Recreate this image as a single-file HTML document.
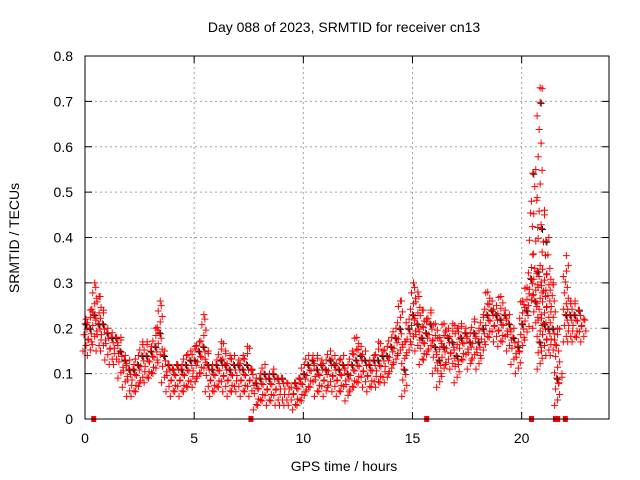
<!DOCTYPE html>
<html><head><meta charset="utf-8"><style>
body{margin:0;background:#fff}
svg{display:block;font-family:"Liberation Sans",sans-serif}
</style></head><body>
<svg id="chart" width="640" height="480" viewBox="0 0 640 480">
<rect width="640" height="480" fill="#fff"/>
<text x="344" y="32" font-size="14" text-anchor="middle">Day 088 of 2023, SRMTID for receiver cn13</text>
<text x="344" y="471" font-size="14" text-anchor="middle">GPS time / hours</text>
<text transform="translate(19,238) rotate(-90)" font-size="14" text-anchor="middle">SRMTID / TECUs</text>
<g id="grid"></g>
<g id="ticks"></g>
<g id="marks"></g>
<rect x="85" y="56" width="524" height="363" fill="none" stroke="#000" stroke-width="1"/>
</svg>
<script>
const times=[0,0.2,0.4,0.6,0.8,1,1.2,1.4,1.6,1.8,2,2.2,2.4,2.6,2.8,3,3.2,3.4,3.6,3.8,4,4.2,4.4,4.6,4.8,5,5.2,5.4,5.6,5.8,6,6.2,6.4,6.6,6.8,7,7.2,7.4,7.6,7.8,8,8.2,8.4,8.6,8.8,9,9.2,9.4,9.6,9.8,10,10.2,10.4,10.6,10.8,11,11.2,11.4,11.6,11.8,12,12.2,12.4,12.6,12.8,13,13.2,13.4,13.6,13.8,14,14.2,14.4,14.6,14.8,15,15.2,15.4,15.6,15.8,16,16.2,16.4,16.6,16.8,17,17.2,17.4,17.6,17.8,18,18.2,18.4,18.6,18.8,19,19.2,19.4,19.6,19.8,20,20.2,20.4,20.6,20.8,21,21.2,21.4,21.6,21.8,22,22.2,22.4,22.6,22.8];
const lowVals=[0.15,0.14,0.17,0.15,0.15,0.13,0.12,0.12,0.09,0.07,0.05,0.05,0.06,0.08,0.08,0.09,0.10,0.13,0.08,0.06,0.05,0.06,0.05,0.06,0.07,0.07,0.09,0.10,0.06,0.05,0.06,0.07,0.06,0.05,0.06,0.06,0.05,0.06,0.05,0.02,0.03,0.04,0.03,0.04,0.03,0.03,0.03,0.03,0.02,0.03,0.04,0.06,0.07,0.05,0.06,0.05,0.07,0.06,0.05,0.06,0.04,0.06,0.07,0.08,0.07,0.06,0.07,0.07,0.08,0.08,0.10,0.12,0.14,0.05,0.14,0.17,0.15,0.12,0.13,0.15,0.10,0.07,0.10,0.12,0.11,0.08,0.12,0.13,0.11,0.13,0.11,0.14,0.17,0.18,0.17,0.16,0.17,0.15,0.12,0.10,0.15,0.18,0.25,0.20,0.11,0.15,0.14,0.14,0.03,0.08,0.17,0.17,0.17,0.18,0.17];
const highVals=[0.22,0.24,0.30,0.27,0.24,0.20,0.19,0.18,0.18,0.14,0.13,0.12,0.14,0.17,0.17,0.16,0.20,0.26,0.15,0.12,0.11,0.12,0.12,0.14,0.15,0.16,0.17,0.23,0.15,0.12,0.13,0.17,0.15,0.14,0.14,0.13,0.14,0.16,0.11,0.09,0.10,0.12,0.10,0.11,0.09,0.09,0.08,0.07,0.08,0.09,0.12,0.14,0.14,0.14,0.13,0.13,0.15,0.14,0.13,0.14,0.12,0.15,0.18,0.16,0.15,0.13,0.14,0.17,0.15,0.16,0.18,0.20,0.26,0.17,0.22,0.30,0.28,0.24,0.22,0.24,0.21,0.18,0.21,0.20,0.21,0.20,0.21,0.20,0.19,0.22,0.20,0.23,0.28,0.26,0.25,0.27,0.24,0.23,0.20,0.17,0.26,0.29,0.48,0.55,0.73,0.46,0.40,0.30,0.20,0.10,0.36,0.26,0.26,0.24,0.22];
const zeroTimes=[0.4,7.6,15.65,20.45,21.55,21.65,22.0];
const xTicks=[0,5,10,15,20];
const yTicks=[0,0.1,0.2,0.3,0.4,0.5,0.6,0.7,0.8];
const NS='http://www.w3.org/2000/svg';
const X0=85,X1=609,Y0=419,Y1=56;
function xs(t){return X0+t/24*(X1-X0);}
function ys(v){return Y0-v/0.8*(Y0-Y1);}
function mk(tag,a,parent){const e=document.createElementNS(NS,tag);for(const k in a)e.setAttribute(k,a[k]);parent.appendChild(e);return e;}
const grid=document.getElementById('grid'),ticks=document.getElementById('ticks'),marks=document.getElementById('marks');
xTicks.forEach(t=>{
  const x=xs(t);
  if(t>0){const g=mk('line',{x1:x,y1:Y0,x2:x,y2:Y1,stroke:'#a0a0a0','stroke-dasharray':'2,3'},grid);
  
  }
  mk('line',{x1:x,y1:Y0,x2:x,y2:Y0-7,stroke:'#000'},ticks);
  mk('line',{x1:x,y1:Y1,x2:x,y2:Y1+7,stroke:'#000'},ticks);
  const l=mk('text',{x:x,y:443,'font-size':14,'text-anchor':'middle'},ticks);l.textContent=t;
  
  
});
yTicks.forEach(v=>{
  const y=ys(v);
  if(v>0&&v<0.8){const g=mk('line',{x1:X0,y1:y,x2:X1,y2:y,stroke:'#a0a0a0','stroke-dasharray':'2,3'},grid);
  
  }
  mk('line',{x1:X0,y1:y,x2:X0+7,y2:y,stroke:'#000'},ticks);
  mk('line',{x1:X1,y1:y,x2:X1-7,y2:y,stroke:'#000'},ticks);
  const l=mk('text',{x:73,y:y+5,'font-size':14,'text-anchor':'end'},ticks);l.textContent=v===0?'0':v.toFixed(1);
  
  
});
function plus(x,y,col){
  const p=mk('path',{d:`M${x-3.5},${y}h7M${x},${y-3.5}v7`,stroke:col,'stroke-width':1,fill:'none'},marks);
  
  
}
times.forEach((t,i)=>{
  const lo=lowVals[i],hi=highVals[i];
  let k=0;
  for(let v=lo;v<=hi+1e-9;v+=(v>0.33?0.03:0.012)){
    const off=[-2,1,3,-1,2,0][k%6];
    if(k%13===5)plus(xs(t)+off+1,ys(v)+1,'#000');
    plus(xs(t)+off,ys(v),'#ff0000');
    k++;
  }
  plus(xs(t)+1,ys(hi),'#ff0000');
});
zeroTimes.forEach(t=>{
  const r=mk('rect',{x:xs(t)-2.5,y:Y0-3,width:5,height:6,fill:'#ff0000'},marks);
  
  
});
</script>
</body></html>
